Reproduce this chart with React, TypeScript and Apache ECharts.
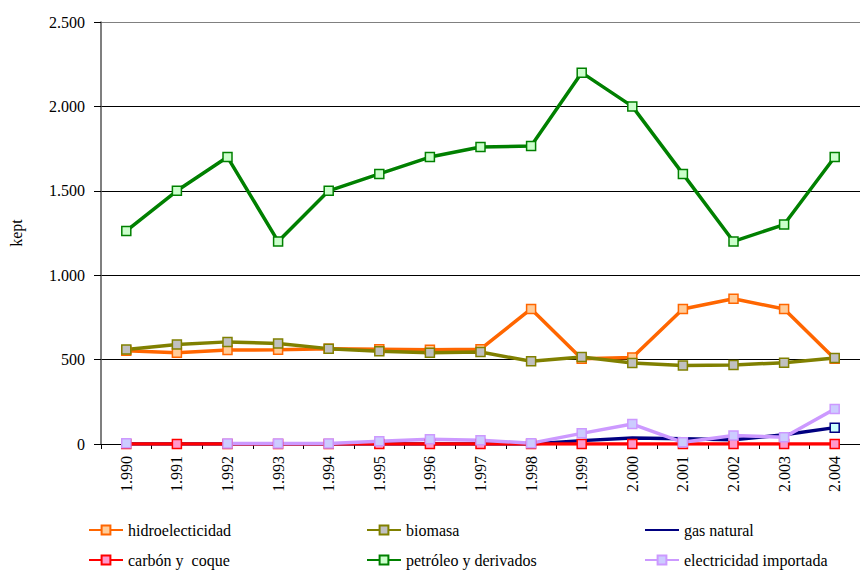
import React, { useEffect, useRef } from "react";
import * as echarts from "echarts";

const years = ["1.990", "1.991", "1.992", "1.993", "1.994", "1.995", "1.996", "1.997", "1.998", "1.999", "2.000", "2.001", "2.002", "2.003", "2.004"];

const hidroelecticidad = [553, 540, 557, 558, 565, 562, 558, 562, 800, 505, 512, 800, 860, 800, 505];
const biomasa = [560, 590, 605, 595, 565, 550, 540, 545, 490, 515, 480, 465, 468, 482, 510];
const gasNatural = [0, 0, 0, 0, 0, 0, 0, 0, 0, 20, 35, 31, 25, 55, 97];
const carbonCoque = [0, 0, 0, 0, 0, 0, 0, 0, 0, 0, 0, 0, 0, 0, 0];
const petroleo = [1262, 1500, 1700, 1200, 1500, 1600, 1700, 1760, 1765, 2200, 2000, 1600, 1200, 1300, 1700];
const electricidadImportada: (number | null)[] = [5, null, 3, 3, 3, 16, 28, 22, 5, 63, 118, 10, 50, 40, 207];

const yTicks = [0, 500, 1000, 1500, 2000, 2500];

const FONT = "Liberation Serif";
const TEXT = { fontFamily: FONT, fontSize: 16, color: "#000" };

function fmtThousands(v: number): string {
  return String(v).replace(/\B(?=(\d{3})+(?!\d))/g, ".");
}

function lineSeries(name: string, data: any[], line: string, fill: string) {
  return {
    name,
    type: "line",
    data,
    symbol: "rect",
    symbolSize: 9,
    showAllSymbol: true,
    connectNulls: false,
    lineStyle: { color: line, width: 3.5 },
    itemStyle: { color: fill, borderColor: line, borderWidth: 1.5 },
  };
}

export default function App() {
  const ref = useRef<HTMLDivElement>(null);

  useEffect(() => {
    if (!ref.current) return;
    const chart = echarts.init(ref.current, undefined, { renderer: "svg" });

    // gas natural: plain line, with a marker only on its last year
    const gasData = gasNatural.map((v, i) =>
      i === gasNatural.length - 1
        ? { value: v, symbol: "rect", symbolSize: 9, itemStyle: { color: "#CCFFFF", borderColor: "#000080", borderWidth: 1.5 } }
        : v
    );

    const mkLegend = (name: string, left: number, top: number, extra: any = {}) => ({
      data: [{ name, ...extra }],
      left,
      top,
      padding: 0,
      itemWidth: 34,
      itemHeight: 11,
      itemGap: 0,
      textStyle: { ...TEXT },
    });

    chart.setOption({
      animation: false,
      backgroundColor: "#fff",
      textStyle: { ...TEXT },
      grid: { left: 100, top: 22, right: -5, bottom: 126 },
      legend: [
        mkLegend("hidroelecticidad", 88, 522),
        mkLegend("biomasa", 366, 522),
        mkLegend("gas natural", 644, 522, { itemStyle: { opacity: 0 } }),
        mkLegend("carbón y  coque", 88, 552),
        mkLegend("petróleo y derivados", 366, 552),
        mkLegend("electricidad importada", 644, 552),
      ],
      xAxis: {
        type: "category",
        data: years,
        boundaryGap: true,
        axisLine: { lineStyle: { color: "#000", width: 1 } },
        axisTick: { show: true, length: 5, lineStyle: { color: "#000" } },
        axisLabel: { rotate: 90, margin: 12, ...TEXT },
      },
      yAxis: {
        type: "value",
        min: 0,
        max: 2500,
        interval: 500,
        name: "kept",
        nameLocation: "middle",
        nameGap: 77,
        nameRotate: 90,
        nameTextStyle: { ...TEXT },
        axisLine: { show: true, lineStyle: { color: "#555", width: 1.5 } },
        axisTick: { show: true, length: 7, lineStyle: { color: "#000" } },
        axisLabel: {
          margin: 16,
          ...TEXT,
          formatter: (v: number) => (yTicks.includes(v) ? fmtThousands(v) : ""),
        },
        splitLine: {
          show: true,
          lineStyle: { color: ["#000", "#000", "#000", "#000", "#000", "#808080"], width: 1 },
        },
      },
      series: [
        lineSeries("hidroelecticidad", hidroelecticidad, "#FF6600", "#FFCC99"),
        lineSeries("biomasa", biomasa, "#808000", "#C0C0C0"),
        {
          name: "gas natural",
          type: "line",
          data: gasData,
          symbol: "none",
          lineStyle: { color: "#000080", width: 3.5 },
          itemStyle: { color: "#000080" },
        },
        lineSeries("carbón y  coque", carbonCoque, "#FF0000", "#FF99CC"),
        lineSeries("petróleo y derivados", petroleo, "#008000", "#CCFFCC"),
        lineSeries("electricidad importada", electricidadImportada, "#CC99FF", "#CCCCFF"),
      ],
    });

    return () => chart.dispose();
  }, []);

  return <div ref={ref} style={{ width: 860, height: 570, position: "absolute", left: 0, top: 0 }} />;
}
